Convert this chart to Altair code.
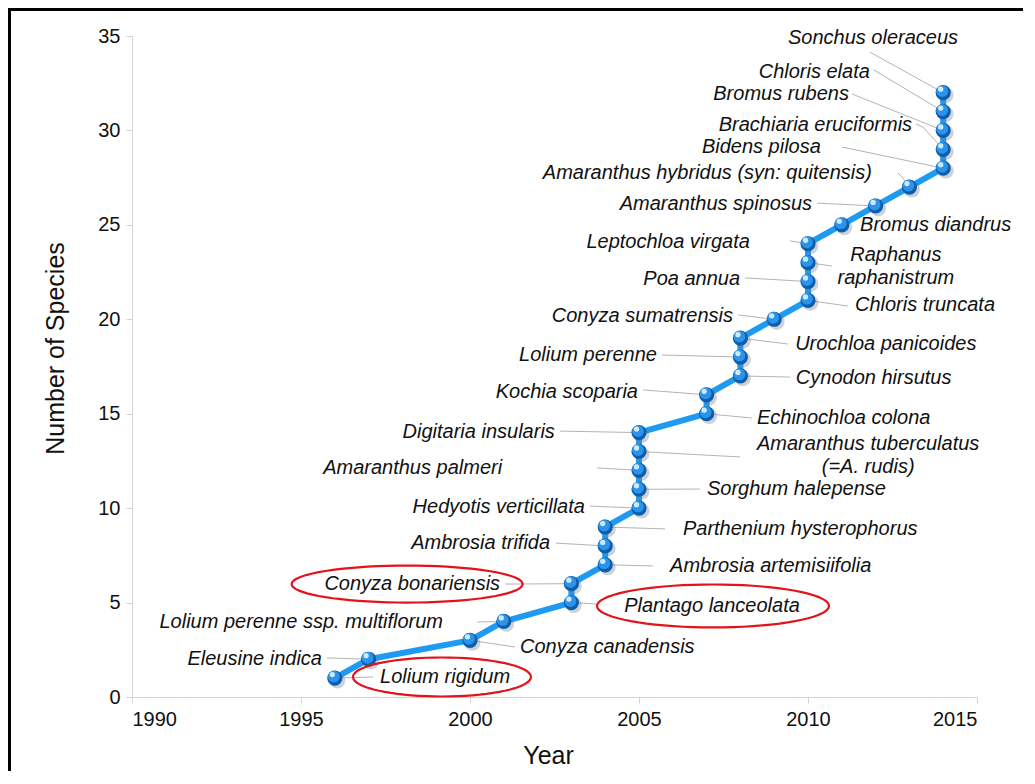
import math
import altair as alt
import pandas as pd

# ---------------- data ----------------
years = [1996, 1997, 2000, 2001, 2003, 2003, 2004, 2004, 2004, 2005, 2005, 2005,
         2005, 2005, 2007, 2007, 2008, 2008, 2008, 2009, 2010, 2010, 2010, 2010,
         2011, 2012, 2013, 2014, 2014, 2014, 2014, 2014]
counts = [1, 2, 3, 4, 5, 6, 7, 8, 9, 10, 11, 12, 13, 14, 15, 16, 17, 18, 19, 20,
          21, 22, 23, 24, 25, 26, 27, 28, 29, 30, 31, 32]
species = ["Lolium rigidum", "Eleusine indica", "Conyza canadensis",
           "Lolium perenne ssp. multiflorum", "Plantago lanceolata",
           "Conyza bonariensis", "Ambrosia artemisiifolia", "Ambrosia trifida",
           "Parthenium hysterophorus", "Hedyotis verticillata", "Sorghum halepense",
           "Amaranthus palmeri", "Amaranthus tuberculatus", "Digitaria insularis",
           "Echinochloa colona", "Kochia scoparia", "Cynodon hirsutus",
           "Lolium perenne", "Urochloa panicoides", "Conyza sumatrensis",
           "Chloris truncata", "Poa annua", "Raphanus raphanistrum",
           "Leptochloa virgata", "Bromus diandrus", "Amaranthus spinosus",
           "Amaranthus hybridus", "Bidens pilosa", "Brachiaria eruciformis",
           "Bromus rubens", "Chloris elata", "Sonchus oleraceus"]

# label texts and their anchors (data units)
label_text = ["Sonchus oleraceus", "Chloris elata", "Bromus rubens",
              "Brachiaria eruciformis", "Bidens pilosa",
              "Amaranthus hybridus (syn: quitensis)", "Amaranthus spinosus",
              "Bromus diandrus", "Leptochloa virgata", "Raphanus", "raphanistrum",
              "Poa annua", "Chloris truncata", "Conyza sumatrensis",
              "Urochloa panicoides", "Lolium perenne", "Cynodon hirsutus",
              "Kochia scoparia", "Echinochloa colona", "Digitaria insularis",
              "Amaranthus tuberculatus", "(=A. rudis)", "Amaranthus palmeri",
              "Sorghum halepense", "Hedyotis verticillata",
              "Parthenium hysterophorus", "Ambrosia trifida",
              "Ambrosia artemisiifolia", "Conyza bonariensis", "Plantago lanceolata",
              "Lolium perenne ssp. multiflorum", "Conyza canadensis",
              "Eleusine indica", "Lolium rigidum"]
label_x = [2014.44, 2011.83, 2011.21, 2013.08, 2010.38, 2011.89, 2010.12, 2011.54,
           2008.28, 2012.60, 2012.60, 2007.99, 2011.39, 2007.78, 2009.62, 2005.53,
           2009.64, 2004.97, 2008.49, 2002.51, 2011.78, 2011.78, 2000.95, 2007.01,
           2003.40, 2006.30, 2002.37, 2005.92, 2000.89, 2004.56, 1999.20, 2001.48,
           1995.62, 1997.34]
label_y = [34.89, 33.09, 31.93, 30.29, 29.12, 27.75, 26.10, 24.99, 24.09, 23.40,
           22.19, 22.13, 20.76, 20.17, 18.69, 18.11, 16.89, 16.15, 14.77, 14.03,
           13.40, 12.18, 12.13, 11.01, 10.06, 8.90, 8.15, 6.94, 5.98, 4.82, 3.97,
           2.65, 2.01, 1.06]
label_side = ["right", "right", "right", "right", "right", "right", "right", "left",
              "right", "center", "center", "right", "left", "right", "left", "right",
              "left", "right", "left", "right", "center", "center", "right", "left",
              "right", "left", "right", "left", "right", "left", "right", "left",
              "right", "left"]

# leader lines (start -> end, data units)
lead_x1 = [2011.83, 2011.95, 2011.30, 2013.20, 2013.40, 2011.01, 2012.66, 2012.81,
           2010.27, 2009.47, 2010.71, 2008.14, 2011.18, 2007.93, 2009.41, 2005.68,
           2009.47, 2005.12, 2008.34, 2002.66, 2007.99, 2003.76, 2006.80, 2003.55,
           2005.77, 2002.54, 2005.41, 2001.04, 2003.80, 2000.21, 2001.33, 1995.77,
           1997.13]
lead_y1 = [34.15, 33.20, 31.93, 30.34, 30.18, 29.12, 27.75, 27.48, 26.15, 24.15,
           22.82, 22.19, 20.70, 20.23, 18.69, 18.11, 16.94, 16.26, 14.77, 14.08,
           12.71, 12.13, 11.01, 10.11, 8.90, 8.15, 6.94, 5.98, 4.92, 3.97, 2.65,
           2.07, 1.06]
lead_x2 = [2014, 2014, 2014, 2013.40, 2014, 2014, 2012.81, 2013, 2012, 2010, 2010,
           2010, 2010, 2009, 2008, 2008, 2008, 2007, 2007, 2005, 2005, 2005, 2005,
           2005, 2004, 2004, 2004, 2003, 2003, 2001, 2000, 1997, 1996]
lead_y2 = [32, 31, 30, 30.18, 29, 28, 27.48, 27, 26, 24, 23, 22, 21, 20, 19, 18, 17,
           16, 15, 14, 13, 12, 11, 10, 9, 8, 7, 6, 5, 4, 3, 2, 1]

# highlighted labels (red ellipses)
ring_x = [1998.14, 2007.19, 1999.17]
ring_y = [5.98, 4.82, 1.06]
ring_w = [231, 232, 178]
ring_h = [37, 43, 39]

# ---------------- chart ----------------
FONT = "Liberation Sans"
W, H = 845, 661

pts = pd.DataFrame({"year": years, "count": counts, "species": species})
labels = pd.DataFrame({"text": label_text, "x": label_x, "y": label_y, "side": label_side})
leads = pd.DataFrame({"x1": lead_x1, "y1": lead_y1, "x2": lead_x2, "y2": lead_y2})

xscale = alt.Scale(domain=[1990, 2015], nice=False, zero=False)
yscale = alt.Scale(domain=[0, 35], nice=False)

xax = alt.Axis(values=[1990, 1995, 2000, 2005, 2010, 2015], format="d", grid=False,
               domainColor="#d4d4d4", tickColor="#d4d4d4", tickSize=6,
               labelFont=FONT, labelFontSize=20, labelColor="#111111", labelPadding=6,
               title="Year", titleFont=FONT, titleFontSize=25, titleFontWeight="normal",
               titleColor="#111111", titleX=416, titleY=58, titleBaseline="middle",
               titleAlign="center")
yax = alt.Axis(values=[0, 5, 10, 15, 20, 25, 30, 35], grid=False,
               domainColor="#d4d4d4", tickColor="#d4d4d4", tickSize=6,
               labelFont=FONT, labelFontSize=20, labelColor="#111111", labelPadding=6,
               title="Number of Species", titleFont=FONT, titleFontSize=25,
               titleFontWeight="normal", titleColor="#111111", titleX=-77, titleY=312,
               titleAngle=270, titleAlign="center", titleBaseline="middle")


def ex(field):
    return alt.X(field, type="quantitative", scale=xscale, axis=xax, title="Year")


def ey(field):
    return alt.Y(field, type="quantitative", scale=yscale, axis=yax,
                 title="Number of Species")


base_pts = alt.Chart(pts)

line = base_pts.mark_line(color="#1E9BF0", strokeWidth=6, strokeJoin="round").encode(
    x=ex("year"), y=ey("count"), order="count:Q")

leader = alt.Chart(leads).mark_rule(color="#b4b4b4", strokeWidth=1).encode(
    x=ex("x1"), y=ey("y1"), x2="x2:Q", y2="y2:Q")

shadow = base_pts.mark_circle(size=250, color="#6f7f8f", opacity=0.35,
                              xOffset=2.5, yOffset=2.5).encode(x=ex("year"), y=ey("count"))
ball = base_pts.mark_circle(size=230, color="#0C5EAC", opacity=1).encode(
    x=ex("year"), y=ey("count"))
ball_mid = base_pts.mark_circle(size=140, color="#2B93EA", opacity=1,
                                xOffset=-1, yOffset=-1.5).encode(x=ex("year"), y=ey("count"))
ball_hi = base_pts.mark_circle(size=28, color="#D6EEFF", opacity=0.95,
                               xOffset=-2.5, yOffset=-3.5).encode(x=ex("year"), y=ey("count"))

text_layers = []
for side in ["left", "right", "center"]:
    text_layers.append(
        alt.Chart(labels).transform_filter(alt.datum.side == side).mark_text(
            align=side, baseline="middle", font=FONT, fontSize=20,
            fontStyle="italic", color="#111111").encode(
            x=ex("x"), y=ey("y"), text="text:N"))


def ellipse_path(w, h, n=72):
    ry = h / w
    parts = []
    for i in range(n):
        a = 2 * math.pi * i / n
        parts.append(("M" if i == 0 else "L") + f"{math.cos(a):.4f},{ry * math.sin(a):.4f}")
    return " ".join(parts) + " Z"


ring_layers = []
for rx, ry, rw, rh in zip(ring_x, ring_y, ring_w, ring_h):
    ring_layers.append(
        alt.Chart(pd.DataFrame({"x": [rx], "y": [ry]})).mark_point(
            shape=ellipse_path(rw, rh), size=rw * rw, filled=False,
            stroke="#E3131B", strokeWidth=2.2, opacity=1).encode(
            x=ex("x"), y=ey("y")))

# outer frame (left and top edges of the picture)
frame_left = alt.Chart(pts).mark_rule(color="black", strokeWidth=2.6).encode(
    x=alt.value(-122.5), y=alt.value(-27), y2=alt.value(760))
frame_top = alt.Chart(pts).mark_rule(color="black", strokeWidth=2.6).encode(
    x=alt.value(-124), x2=alt.value(900), y=alt.value(-26.7))

chart = alt.layer(
    line, leader, shadow, ball, ball_mid, ball_hi, *text_layers, *ring_layers,
    frame_left, frame_top
).properties(
    width=W, height=H,
    background="white",
    autosize=alt.AutoSizeParams(type="none"),
    padding={"left": 124, "top": 28, "right": 46, "bottom": 74},
).configure_view(stroke="transparent", strokeWidth=0)

chart.save("out.html", embed_options={"renderer": "svg", "actions": False})
